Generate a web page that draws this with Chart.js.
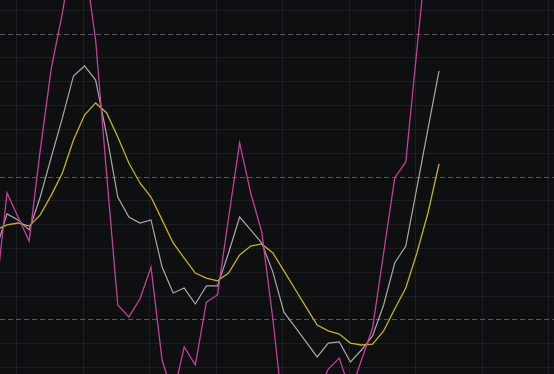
<!DOCTYPE html>
<html>
<head>
<meta charset="utf-8">
<script src="https://cdn.jsdelivr.net/npm/chart.js@4/dist/chart.umd.min.js"></script>
<style>
  html, body { margin: 0; padding: 0; background: #0e0f11; }
  #wrap { width: 554px; height: 374px; }
</style>
</head>
<body>
<div id="wrap"><canvas id="myChart"></canvas></div>
<script>
// series values, one per bar (first bar sits just left of the visible area)
var fastLine = [-49.1, -6.7, -16.8, -26.9, 11.3, 45.7, 68.8, 97.4, 91.1, 57.5, 0.8,
  -53.7, -58.7, -51.2, -37.8, -76.8, -91.5, -71.3, -78.9, -52.5, -49.5,
  -17.2, 14.3, -6.7, -23.1, -59.6, -102, -110, -104, -91.5, -80.6,
  -76.0, -90.2, -76.8, -63.4, -31.9, -0.4, 6.3, 53.3, 99.5, 145.8];
var midLine = [-30.6, -15.5, -18.0, -22.2, -8.4, 8.4, 24.8, 42.4, 46.6, 40.7, 17.6,
  -8.4, -16.8, -19.3, -18.0, -37.8, -48.7, -46.6, -53.3, -45.7, -45.7,
  -31.9, -16.8, -22.2, -27.7, -39.9, -56.7, -62.9, -69.2, -75.5, -69.7,
  -69.2, -77.6, -72.6, -66.7, -53.7, -36.1, -29.0, -4.6, 20.1, 44.5];
var slowLine = [-22.2, -20.1, -19.3, -20.6, -15.9, -7.6, 1.7, 15.5, 26.0, 31.1, 26.9,
  16.8, 5.9, -2.5, -8.4, -18.0, -27.7, -34.0, -40.3, -42.4, -43.6,
  -40.3, -32.7, -29.0, -28.1, -31.9, -39.4, -47.0, -54.6, -62.1, -64.6,
  -65.9, -69.7, -70.5, -70.1, -64.6, -55.4, -46.6, -31.9, -15.1, 5.5];
var levels = [-60, 0, 60];

var firstBar = -1;

function toPoints(arr) {
  return arr.map(function (v, i) { return { x: firstBar + i, y: v }; });
}

var gridColor = "#1c1e22";
var levelColor = "#55585e";

const ctx = document.getElementById("myChart").getContext("2d");
const myChart = new Chart(ctx, {
  type: "line",
  data: {
    datasets: [
      { label: "fast", data: toPoints(fastLine), borderColor: "#c93c9e", borderWidth: 1.3 },
      { label: "mid", data: toPoints(midLine), borderColor: "#a8a8a8", borderWidth: 1.2 },
      { label: "slow", data: toPoints(slowLine), borderColor: "#c6b21f", borderWidth: 1.3 },
    ],
  },
  options: {
    responsive: true,
    maintainAspectRatio: false,
    animation: false,
    layout: { padding: 0 },
    elements: { point: { radius: 0 }, line: { tension: 0 } },
    plugins: { legend: { display: false }, tooltip: { enabled: false } },
    scales: {
      x: {
        type: "linear",
        min: -0.632,
        max: 49.38,
        afterBuildTicks: function (scale) {
          var t = [];
          for (var v = 0.9; v < scale.max; v += 6) t.push({ value: v });
          scale.ticks = t;
        },
        grid: { color: gridColor, lineWidth: 1, drawTicks: false },
        border: { display: false },
        ticks: { display: false },
      },
      y: {
        min: -82.67,
        max: 74.28,
        afterBuildTicks: function (scale) {
          var t = [];
          for (var v = -80; v <= 70; v += 10) t.push({ value: v });
          scale.ticks = t;
        },
        grid: {
          drawTicks: false,
          lineWidth: 1,
          color: function (c) {
            return c.tick && levels.indexOf(c.tick.value) >= 0 ? levelColor : gridColor;
          },
        },
        border: {
          display: false,
          dash: function (c) {
            return c.tick && levels.indexOf(c.tick.value) >= 0 ? [5, 3] : [];
          },
        },
        ticks: { display: false },
      },
    },
  },
});
</script>
</body>
</html>
